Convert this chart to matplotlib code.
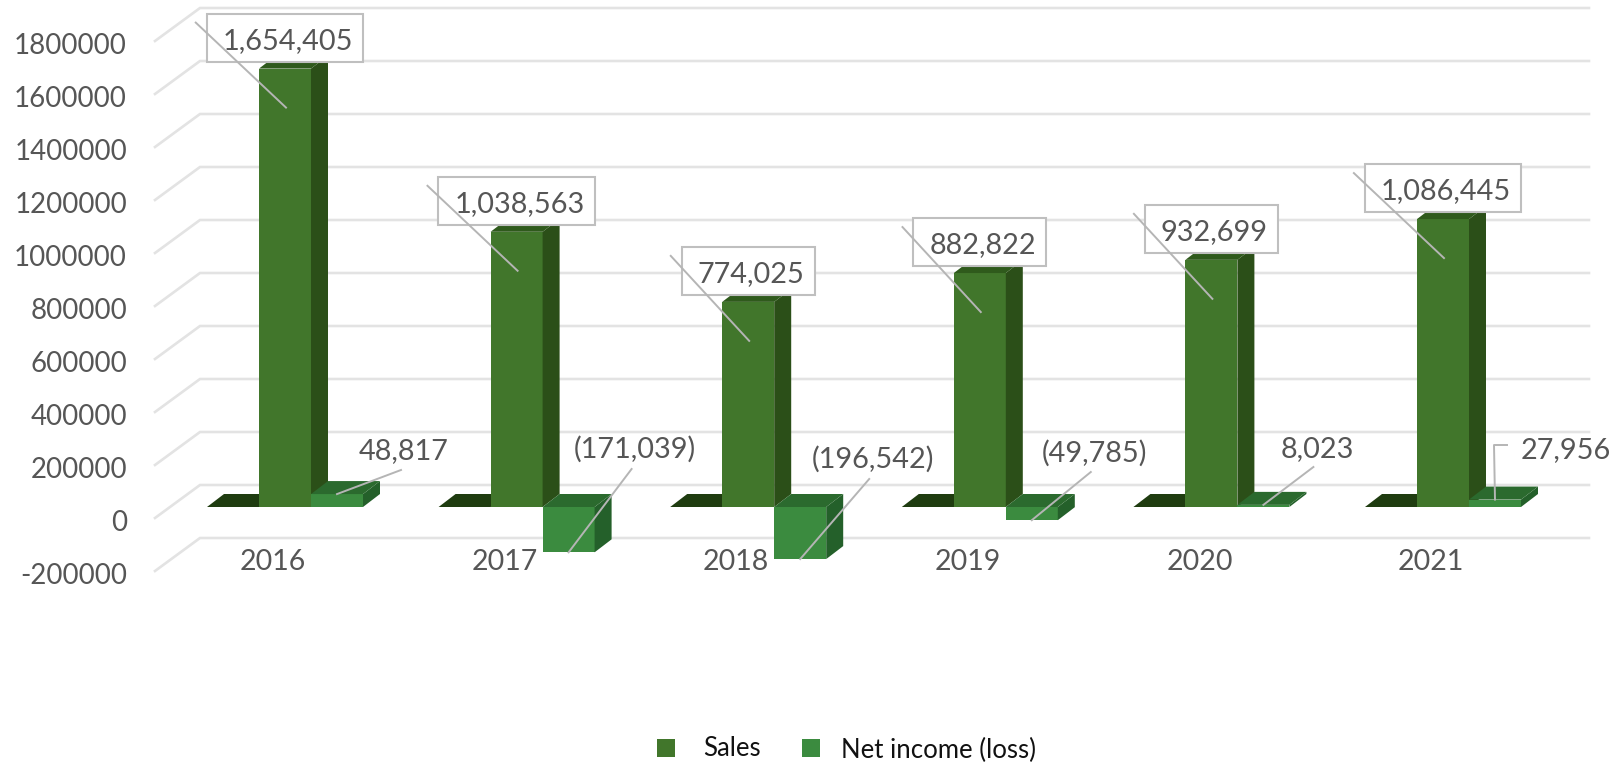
import matplotlib
matplotlib.use('Agg')
import matplotlib.pyplot as plt
from matplotlib.patches import Polygon, Rectangle

plt.rcParams['font.family'] = ['Lato', 'DejaVu Sans']

years = ['2016', '2017', '2018', '2019', '2020', '2021']
sales = [1654405, 1038563, 774025, 882822, 932699, 1086445]
net_income = [48817, -171039, -196542, -49785, 8023, 27956]
spacer = [0, 0, 0, 0, 0, 0]
sales_labels = ['1,654,405', '1,038,563', '774,025', '882,822', '932,699', '1,086,445']
net_labels = ['48,817', '(171,039)', '(196,542)', '(49,785)', '8,023', '27,956']
axis_values = [1800000, 1600000, 1400000, 1200000, 1000000, 800000, 600000, 400000, 200000, 0, -200000]

# net income label placement, pixels from the bar centre at the zero line
net_text_off = [(67, -56), (66, -58), (73, -48), (63, -54), (54, -58), (71, -57)]
net_lead_off = [(64, -37), (63, -38), (69, -28), (59, -35), (50, -40), (12, -62)]

W, H = 1619, 765
PX_X = 231.6            # pixels per category
PX_Y = 53 / 200000      # pixels per unit of value
X0 = 285                # pixel of the first group centre
Y0 = 507                # pixel of the zero line at the bars
BAR = 52 / PX_X
DEPTH_X = 17 / PX_X
DEPTH_Y = 13 / PX_Y

GRID = '#e3e3e3'
TEXT = '#565656'
LEADER = '#b5b5b5'


def dx(px):
    return px / PX_X


def dy(px):
    # pixel rows grow downwards
    return -px / PX_Y


def box(ax, left, value, front, side, top, z):
    hi, lo = max(value, 0), min(value, 0)
    right = left + BAR
    if value != 0:
        ax.bar(left, value, width=BAR, align='edge', color=front, linewidth=0, zorder=z)
        ax.add_patch(Polygon([(right, lo), (right + DEPTH_X, lo + DEPTH_Y),
                              (right + DEPTH_X, hi + DEPTH_Y), (right, hi)],
                             facecolor=side, linewidth=0, zorder=z))
    ax.add_patch(Polygon([(left, hi), (right, hi), (right + DEPTH_X, hi + DEPTH_Y),
                          (left + DEPTH_X, hi + DEPTH_Y)],
                         facecolor=top, linewidth=0, zorder=z))


fig = plt.figure(figsize=(W / 100, H / 100), dpi=100)
ax = fig.add_axes([0, 0, 1, 1])
ax.set_xlim(-X0 / PX_X, (W - X0) / PX_X)
ax.set_ylim((Y0 - H) / PX_Y, Y0 / PX_Y)
ax.set_axis_off()

# back wall and side wall gridlines
wall_front = dx(155 - X0)
wall_back = dx(200 - X0)
wall_end = dx(1589 - X0)
for v in axis_values:
    ax.plot([wall_front, wall_back, wall_end], [v + dy(11), v + dy(-22), v + dy(-22)],
            color=GRID, lw=1.9, solid_joinstyle='miter', zorder=1)
    ax.text(dx(127 - X0), v + dy(16), str(v), ha='right', va='center',
            fontsize=19.9, color=TEXT, zorder=2)

for i, year in enumerate(years):
    ax.text(i + dx(-12), dy(562 - Y0), year, ha='center', va='center',
            fontsize=20.5, color=TEXT, zorder=2)

    box(ax, i - 1.5 * BAR, spacer[i], '#1f3c10', '#1f3c10', '#1f3c10', 3)
    box(ax, i - 0.5 * BAR, sales[i], '#41762b', '#2b4f18', '#2f5a1c', 3)
    box(ax, i + 0.5 * BAR, net_income[i], '#3b8b3f', '#24602a', '#2b6a2e', 4)

# sales labels sit in a white box above the bar
fig.canvas.draw()
renderer = fig.canvas.get_renderer()
for i, label in enumerate(sales_labels):
    y = sales[i] + dy(-31)
    t = ax.text(i + dx(3), y + dy(3), label, ha='center', va='center',
                fontsize=20.8, color=TEXT, zorder=7)
    w = t.get_window_extent(renderer).width + 26
    ax.add_patch(Rectangle((i - dx(w / 2), y + dy(24)), dx(w), dy(-48), facecolor='white',
                           edgecolor='#bfbfbf', lw=1.5, zorder=6))
    # the leader starts just outside the box and ends inside the bar
    ax.plot([i - dx(w / 2 + 11), i + dx(1)], [sales[i] + dy(-46), sales[i] + dy(39)],
            color=LEADER, lw=1.4, zorder=8)

for i, label in enumerate(net_labels):
    c = i + BAR
    tx, ty = net_text_off[i]
    ax.text(c + dx(tx), dy(ty), label, ha='center', va='center',
            fontsize=20.8, color=TEXT, zorder=7)
    lx, ly = net_lead_off[i]
    if i == 5:
        # this leader has an elbow because the label sits to the side
        ax.plot([c + dx(lx), c + dx(-1), c], [dy(ly), dy(ly), net_income[i]],
                color=LEADER, lw=1.4, zorder=8)
    else:
        ax.plot([c + dx(lx), c], [dy(ly), net_income[i]],
                color=LEADER, lw=1.4, zorder=8)

# legend along the bottom
for left, name, colour, text_x, text_y in [(657, 'Sales', '#41762b', 703, 748),
                                           (802, 'Net income (loss)', '#3b8b3f', 841, 750)]:
    ax.add_patch(Rectangle((dx(left - X0), dy(757 - Y0)), dx(18), dy(-18),
                           facecolor=colour, linewidth=0))
    ax.text(dx(text_x - X0), dy(text_y - Y0), name, ha='left', va='center',
            fontsize=18.5, color='#111111')

fig.savefig('out.png', dpi=100)
